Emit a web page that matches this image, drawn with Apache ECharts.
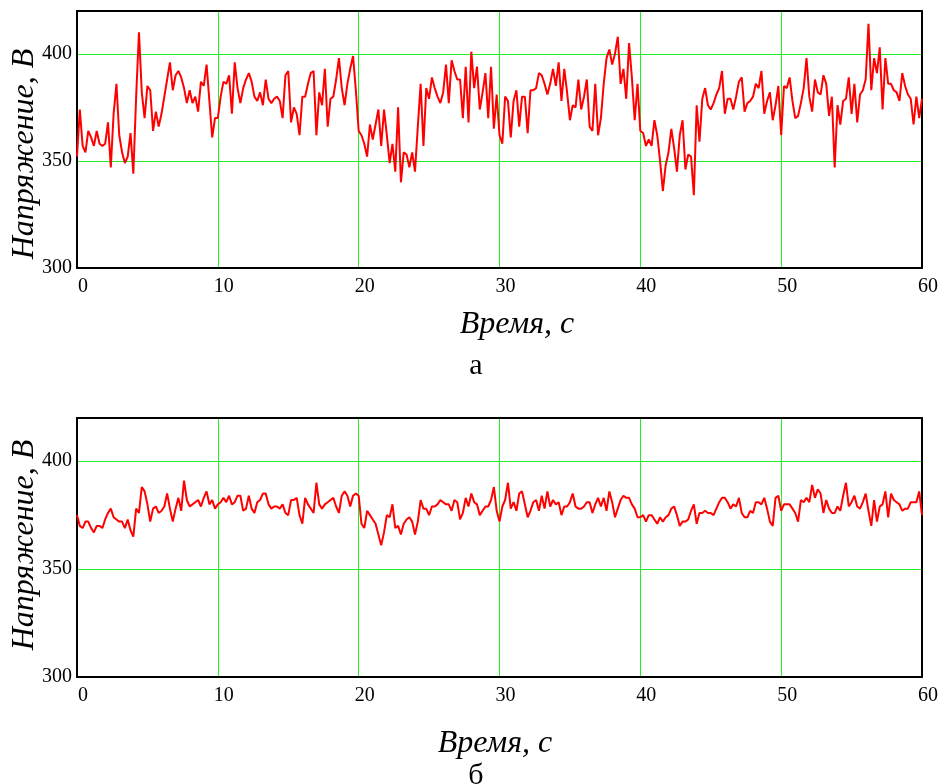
<!DOCTYPE html>
<html>
<head>
<meta charset="utf-8">
<script src="https://cdn.jsdelivr.net/npm/echarts@6/dist/echarts.min.js"></script>
<style>
html,body{margin:0;padding:0;background:#fff;}
#chart{width:943px;height:784px;}
</style>
</head>
<body>
<div id="chart"></div>
<script>
// Sampling of the recordings (seconds)
const timeStep = 0.2;
const xTicks = [0, 10, 20, 30, 40, 50, 60];
const yTicks = [300, 350, 400];
const yTitle = 'Напряжение, В';
const xTitle = 'Время, с';
const panelLabels = ['а', 'б'];

// Panel a: voltage, V
const voltageA = [
352,374,357,354,364,361,357,364,358,357,
358,368,347,372,386,362,354,349,352,363,
344,380,410,382,370,385,383,364,373,366,
372,380,388,396,383,390,392,389,384,377,
383,377,380,373,387,385,395,378,361,370,
370,380,387,386,390,372,396,384,377,384,
388,391,387,380,378,382,376,388,379,377,
379,380,378,370,390,392,368,375,372,362,
380,380,386,391,392,362,382,376,393,366,
379,380,388,398,384,376,386,393,399,383,
364,362,358,352,367,360,367,374,357,374,
362,349,358,345,375,340,354,353,347,354,
345,366,386,357,384,379,389,384,380,377,
382,395,377,397,392,388,388,370,394,368,
401,384,394,374,382,391,370,394,365,381,
362,358,380,378,361,378,383,366,380,380,
363,383,383,384,391,390,386,381,386,393,
385,396,378,393,382,369,376,375,388,374,
380,388,366,364,386,362,370,386,398,402,
395,400,408,386,393,379,405,389,369,386,
364,363,357,360,357,369,362,350,336,348,
354,365,356,345,362,369,346,353,352,334,
376,359,379,384,376,374,377,381,384,392,
372,379,379,374,380,387,389,373,377,378,
380,386,384,392,372,378,382,369,376,385,
362,385,384,389,378,370,371,377,384,398,
380,373,388,382,381,390,386,371,380,347,
376,367,378,379,389,372,386,368,381,383,
388,414,383,398,391,403,374,398,386,386,
383,382,378,391,385,381,379,367,380,370,
379
];

// Panel б: voltage, V
const voltageB = [
375,370,369,372,372,369,367,370,370,369,
373,376,378,374,373,372,372,369,373,368,
365,378,376,388,386,380,372,378,379,376,
377,379,385,378,372,378,383,377,391,382,
379,380,381,382,379,383,386,380,382,378,
380,381,383,381,384,380,381,384,384,377,
378,384,378,376,381,382,385,385,380,378,
379,379,378,380,376,375,382,382,383,375,
371,383,380,378,376,390,380,378,380,381,
382,383,379,376,384,386,384,379,384,385,
384,371,369,377,375,373,371,366,361,367,
375,374,380,369,370,366,371,373,374,372,
366,372,382,378,378,375,379,379,380,382,
381,380,380,377,382,381,373,376,383,379,
385,381,380,375,377,379,379,382,388,377,
372,379,382,390,378,381,377,385,386,380,
374,377,381,382,377,384,378,386,379,382,
380,381,375,379,379,381,385,379,378,378,
379,381,381,376,380,383,379,383,377,386,
381,374,378,382,384,383,383,380,378,374,
374,375,372,375,375,373,371,374,372,374,
375,378,379,375,370,372,372,373,377,380,
371,376,376,377,376,376,375,378,381,383,
383,381,378,380,379,383,376,374,374,377,
376,381,381,380,383,378,372,370,383,384,
377,380,380,380,378,376,372,382,381,383,
381,389,383,387,385,376,382,378,376,376,
379,377,384,390,379,381,384,379,378,381,
385,377,370,382,372,379,380,386,374,385,
382,381,380,377,378,378,381,381,381,386,
375
];

function pairs(vals) {
  return vals.map((v, i) => [Math.round(i * timeStep * 10) / 10, v]);
}

const FONT = '"Liberation Serif", "Times New Roman", serif';
const GREEN = '#22ee22';

function xAxisFor(gi) {
  return {
    type: 'value', gridIndex: gi, min: xTicks[0], max: xTicks[xTicks.length - 1],
    interval: xTicks[1] - xTicks[0],
    axisLine: { show: true, onZero: false, lineStyle: { color: '#000', width: 2 } },
    axisTick: { show: false },
    axisLabel: { color: '#000', fontFamily: FONT, fontSize: 20, margin: 9, padding: [0, 0, 0, 12] },
    splitLine: { show: true, lineStyle: { color: GREEN, width: 1 } }
  };
}
function yAxisFor(gi) {
  return {
    type: 'value', gridIndex: gi, min: 300, max: 420, interval: 50,
    axisLine: { show: true, onZero: false, lineStyle: { color: '#000', width: 2 } },
    axisTick: { show: false },
    axisLabel: {
      color: '#000', fontFamily: FONT, fontSize: 20, margin: 5, padding: [8, 0, 0, 0],
      formatter: v => (yTicks.indexOf(v) >= 0 ? String(v) : '')
    },
    splitLine: { show: true, lineStyle: { color: GREEN, width: 1 } }
  };
}
function frameX(gi) {
  return { type: 'value', gridIndex: gi, position: 'top', min: 0, max: 60,
    axisLine: { show: true, onZero: false, lineStyle: { color: '#000', width: 2 } },
    axisTick: { show: false }, axisLabel: { show: false }, splitLine: { show: false } };
}
function frameY(gi) {
  return { type: 'value', gridIndex: gi, position: 'right', min: 300, max: 420,
    axisLine: { show: true, onZero: false, lineStyle: { color: '#000', width: 2 } },
    axisTick: { show: false }, axisLabel: { show: false }, splitLine: { show: false } };
}

const TITLE_FONT = 'italic 32px ' + FONT;
const chart = echarts.init(document.getElementById('chart'), null, { renderer: 'canvas' });
chart.setOption({
  animation: false,
  backgroundColor: '#fff',
  grid: [
    { left: 77, top: 11, width: 845, height: 257 },
    { left: 77, top: 418, width: 845, height: 259 }
  ],
  xAxis: [xAxisFor(0), xAxisFor(1), frameX(0), frameX(1)],
  yAxis: [yAxisFor(0), yAxisFor(1), frameY(0), frameY(1)],
  series: [
    { type: 'line', xAxisIndex: 0, yAxisIndex: 0, data: pairs(voltageA), showSymbol: false,
      lineStyle: { color: '#ff0000', width: 2 }, z: 5 },
    { type: 'line', xAxisIndex: 1, yAxisIndex: 1, data: pairs(voltageB), showSymbol: false,
      lineStyle: { color: '#ff0000', width: 2 }, z: 5 }
  ],
  graphic: [
    { type: 'text', x: 25, y: 154, rotation: Math.PI / 2,
      style: { text: yTitle, font: TITLE_FONT, fill: '#000', textAlign: 'center', textVerticalAlign: 'middle' } },
    { type: 'text', x: 25, y: 545, rotation: Math.PI / 2,
      style: { text: yTitle, font: TITLE_FONT, fill: '#000', textAlign: 'center', textVerticalAlign: 'middle' } },
    { type: 'text', x: 517, y: 325,
      style: { text: xTitle, font: TITLE_FONT, fill: '#000', textAlign: 'center', textVerticalAlign: 'middle' } },
    { type: 'text', x: 476, y: 366,
      style: { text: panelLabels[0], font: '30px ' + FONT, fill: '#000', textAlign: 'center', textVerticalAlign: 'middle' } },
    { type: 'text', x: 495, y: 744,
      style: { text: xTitle, font: TITLE_FONT, fill: '#000', textAlign: 'center', textVerticalAlign: 'middle' } },
    { type: 'text', x: 476, y: 776,
      style: { text: panelLabels[1], font: '30px ' + FONT, fill: '#000', textAlign: 'center', textVerticalAlign: 'middle' } }
  ]
});
</script>
</body>
</html>
